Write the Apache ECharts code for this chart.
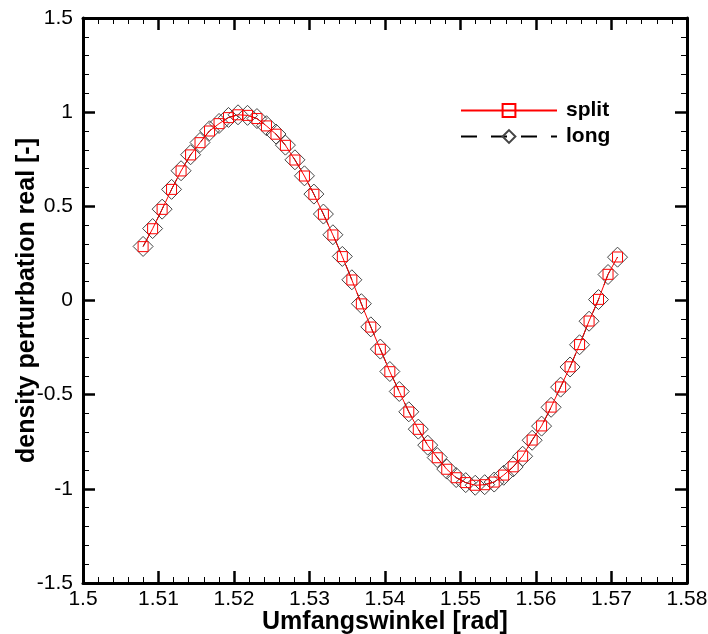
<!DOCTYPE html>
<html>
<head>
<meta charset="utf-8">
<script src="https://cdn.jsdelivr.net/npm/echarts@6/dist/echarts.min.js"></script>
<style>html,body{margin:0;padding:0;background:#fff}#c{width:708px;height:634px}</style>
</head>
<body>
<div id="c"></div>
<script>
const angles = [1.50796,1.50922,1.51048,1.51173,1.51299,1.51425,1.51550,1.51676,1.51802,1.51927,
1.52053,1.52179,1.52304,1.52430,1.52556,1.52681,1.52807,1.52933,1.53058,1.53184,
1.53310,1.53435,1.53561,1.53687,1.53812,1.53938,1.54064,1.54189,1.54315,1.54441,
1.54566,1.54692,1.54818,1.54943,1.55069,1.55195,1.55320,1.55446,1.55572,1.55697,
1.55823,1.55949,1.56074,1.56200,1.56326,1.56451,1.56577,1.56703,1.56828,1.56954,1.57080];
const splitValues = [0.286,0.381,0.484,0.590,0.688,0.773,0.838,0.900,0.939,0.971,
0.986,0.983,0.966,0.927,0.883,0.824,0.746,0.661,0.564,0.458,
0.348,0.233,0.109,-0.018,-0.141,-0.259,-0.378,-0.484,-0.592,-0.684,
-0.769,-0.835,-0.896,-0.941,-0.967,-0.981,-0.978,-0.964,-0.927,-0.883,
-0.826,-0.741,-0.666,-0.566,-0.459,-0.352,-0.234,-0.109,0.006,0.139,0.231];
const longValues = [0.287,0.382,0.485,0.590,0.689,0.774,0.839,0.901,0.940,0.972,
0.986,0.983,0.966,0.928,0.884,0.825,0.747,0.662,0.565,0.459,
0.349,0.234,0.110,-0.017,-0.140,-0.258,-0.377,-0.483,-0.591,-0.683,
-0.768,-0.834,-0.895,-0.940,-0.967,-0.981,-0.978,-0.964,-0.928,-0.884,
-0.827,-0.742,-0.667,-0.567,-0.460,-0.353,-0.235,-0.110,0.005,0.138,0.230];
const xTicks = {min:1.5, max:1.58, interval:0.01};
const yTicks = {min:-1.5, max:1.5, interval:0.5};

const font = "'Liberation Sans', Arial, Helvetica, sans-serif";
const pair = (xs, ys) => xs.map((x,i)=>[x, ys[i]]);

function axisBase(extra){
  return Object.assign({
    axisLine:{show:true, onZero:false, lineStyle:{color:'#000', width:3}},
    axisTick:{show:true, inside:true, length:12, lineStyle:{color:'#000', width:2.5}},
    minorTick:{show:true, splitNumber:5, length:6, lineStyle:{color:'#000', width:1}},
    splitLine:{show:false},
    minorSplitLine:{show:false}
  }, extra);
}

const chart = echarts.init(document.getElementById('c'), null, {renderer:'canvas'});
chart.setOption({
  animation:false,
  backgroundColor:'#fff',
  textStyle:{fontFamily:font},
  grid:{left:83, top:18, right:21, bottom:51, containLabel:false, outerBoundsMode:'none'},
  legend:{
    orient:'vertical', left:455, top:95, itemWidth:96, itemHeight:16, itemGap:5,
    textStyle:{fontFamily:font, fontSize:21, lineHeight:21, fontWeight:'bold', color:'#000', padding:[0,0,0,4]},
    data:['split','long']
  },
  xAxis:[
    axisBase({type:'value', position:'bottom', min:xTicks.min, max:xTicks.max, interval:xTicks.interval,
      name:'Umfangswinkel [rad]', nameLocation:'middle', nameGap:27, nameMoveOverlap:false,
      nameTextStyle:{fontFamily:font, fontSize:25, fontWeight:'bold', color:'#000'},
      axisLabel:{show:true, margin:6, fontFamily:font, fontSize:21, color:'#000',
        formatter:v=>String(parseFloat(v.toFixed(2)))}}),
    axisBase({type:'value', position:'top', min:xTicks.min, max:xTicks.max, interval:xTicks.interval,
      axisLabel:{show:false}})
  ],
  yAxis:[
    axisBase({type:'value', position:'left', min:yTicks.min, max:yTicks.max, interval:yTicks.interval,
      name:'density perturbation real [-]', nameLocation:'middle', nameGap:43, nameRotate:90, nameMoveOverlap:false,
      nameTextStyle:{fontFamily:font, fontSize:25, fontWeight:'bold', color:'#000'},
      axisLabel:{show:true, margin:10, fontFamily:font, fontSize:21, color:'#000',
        formatter:v=>String(parseFloat(v.toFixed(1)))}}),
    axisBase({type:'value', position:'right', min:yTicks.min, max:yTicks.max, interval:yTicks.interval,
      axisLabel:{show:false}})
  ],
  series:[
    {
      name:'long', type:'line', xAxisIndex:0, yAxisIndex:0,
      data:pair(angles, longValues),
      symbol:'diamond', symbolSize:20, showSymbol:true,
      lineStyle:{color:'#000', width:1, type:[16,14]},
      itemStyle:{color:'rgba(0,0,0,0)', borderColor:'#444', borderWidth:1},
      color:'#000', z:2
    },
    {
      name:'split', type:'line', xAxisIndex:0, yAxisIndex:0,
      data:pair(angles, splitValues),
      symbol:'rect', symbolSize:10, showSymbol:true,
      lineStyle:{color:'#ff0000', width:1},
      itemStyle:{color:'rgba(0,0,0,0)', borderColor:'#ff0000', borderWidth:1},
      color:'#ff0000', z:3
    }
  ]
});
</script>
</body>
</html>
